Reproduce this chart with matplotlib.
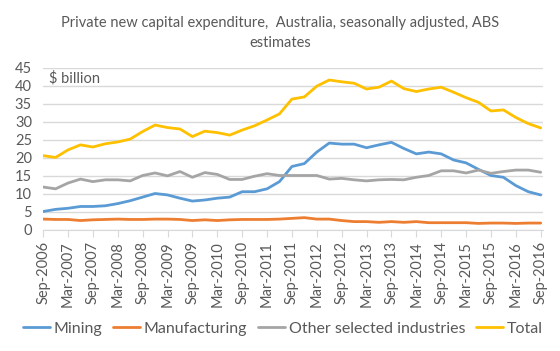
import numpy as np
import matplotlib.pyplot as plt

# quarterly data, Sep-2006 .. Sep-2016 ($ billion)
mining = [5.1, 5.7, 6.0, 6.5, 6.5, 6.7, 7.3, 8.1, 9.1, 10.1,
          9.7, 8.8, 8.0, 8.3, 8.8, 9.1, 10.6, 10.6, 11.4, 13.4,
          17.6, 18.4, 21.6, 24.1, 23.8, 23.8, 22.8, 23.6, 24.3, 22.6,
          21.1, 21.6, 21.1, 19.4, 18.6, 16.8, 15.1, 14.6, 12.3, 10.6, 9.7]
manufacturing = [3.0, 2.9, 2.9, 2.6, 2.8, 2.9, 3.0, 2.9, 2.9, 3.0,
                 3.0, 2.9, 2.6, 2.8, 2.6, 2.8, 2.9, 2.9, 2.9, 3.0,
                 3.2, 3.4, 3.0, 3.0, 2.6, 2.3, 2.3, 2.1, 2.3, 2.1,
                 2.3, 2.0, 2.0, 2.0, 2.0, 1.8, 1.9, 1.9, 1.8, 1.9, 1.9]
other = [11.9, 11.4, 13.0, 14.1, 13.4, 13.9, 13.9, 13.6, 15.1, 15.8,
         15.0, 16.2, 14.6, 15.9, 15.4, 14.0, 14.0, 14.9, 15.6, 15.1,
         15.1, 15.1, 15.1, 14.1, 14.3, 13.9, 13.6, 13.9, 14.0, 13.9,
         14.6, 15.1, 16.4, 16.4, 15.8, 16.6, 15.7, 16.2, 16.6, 16.6, 16.0]
total = [20.6, 20.1, 22.2, 23.6, 23.0, 23.9, 24.4, 25.2, 27.3, 29.1,
         28.4, 28.0, 25.9, 27.4, 27.0, 26.3, 27.7, 28.9, 30.5, 32.2,
         36.3, 36.9, 39.9, 41.6, 41.1, 40.7, 39.1, 39.6, 41.3, 39.2,
         38.4, 39.1, 39.6, 38.2, 36.7, 35.4, 33.0, 33.3, 31.2, 29.5, 28.3]

tick_labels = ["Sep-2006", "Mar-2007", "Sep-2007", "Mar-2008", "Sep-2008",
               "Mar-2009", "Sep-2009", "Mar-2010", "Sep-2010", "Mar-2011",
               "Sep-2011", "Mar-2012", "Sep-2012", "Mar-2013", "Sep-2013",
               "Mar-2014", "Sep-2014", "Mar-2015", "Sep-2015", "Mar-2016",
               "Sep-2016"]

series = [("Mining", mining, "#5B9BD5"),
          ("Manufacturing", manufacturing, "#ED7D31"),
          ("Other selected industries", other, "#A5A5A5"),
          ("Total", total, "#FFC000")]

plt.rcParams['font.family'] = ['Lato', 'DejaVu Sans']
txt = '#595959'

fig = plt.figure(figsize=(5.6, 3.51), dpi=100)
ax = fig.add_axes([0.077, 0.345, 0.893, 0.462])

x = np.arange(len(total))
for name, vals, col in series:
    ax.plot(x, vals, color=col, lw=2, label=name, solid_capstyle='round')

ax.set_xlim(0, len(total) - 1 + 0.2)
ax.set_ylim(0, 45)
ax.set_yticks(np.arange(0, 46, 5))
ax.set_xticks(np.arange(0, len(total), 2))
ax.set_xticklabels(tick_labels, rotation=90)
ax.grid(axis='y', color='#D9D9D9', lw=1)
ax.set_axisbelow(True)
for s in ['top', 'right', 'left']:
    ax.spines[s].set_visible(False)
ax.spines['bottom'].set_color('#D9D9D9')
ax.tick_params(axis='y', length=0, labelsize=10.5, colors=txt, pad=8)
ax.tick_params(axis='x', length=5, color='#D9D9D9', labelsize=10.5, colors=txt, pad=3)

ax.text(0.5, 42, "$ billion", fontsize=10.5, color=txt, va='center')

fig.suptitle("Private new capital expenditure,  Australia, seasonally adjusted, ABS\nestimates",
             fontsize=10.5, color=txt, y=0.955, linespacing=1.55)

fig.legend(loc='center', ncol=4, frameon=False, fontsize=11.5,
           labelcolor=txt, handlelength=1.7, handletextpad=0.2,
           columnspacing=0.7, bbox_to_anchor=(0.505, 0.063))

fig.savefig("out.png", dpi=100)
